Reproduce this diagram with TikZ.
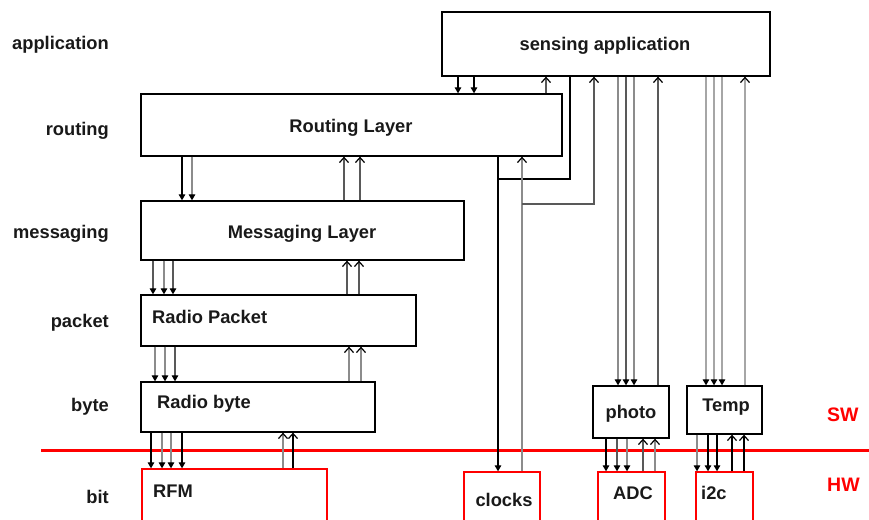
\documentclass[tikz,border=0pt]{standalone}
\usepackage{fontspec}
\setmainfont{Liberation Sans}
\usetikzlibrary{arrows.meta}
\definecolor{gA}{gray}{0.35}
\definecolor{gB}{gray}{0.55}
\definecolor{gC}{gray}{0.65}
\newcommand\lblfont{\fontsize{18.3}{20}\selectfont\bfseries}
\newcommand\dnarr[4][black]{\draw[ln,#1,-{Triangle[color=black,length=6pt,width=6.5pt]}] (#3.south -| #2,0) -- (#4.north -| #2,0);}
\newcommand\uparr[4][black]{\draw[ln,#1,-{Straight Barb[color=black,length=5pt,width=9pt]}] (#3.north -| #2,0) -- (#4.south -| #2,0);}
\begin{document}
\begin{tikzpicture}[x=1pt,y=-1pt,
  box/.style={draw=black,line width=1.3pt,inner sep=0pt,minimum width=#1},
  hwbox/.style={draw=red,line width=1.3pt,inner sep=0pt,minimum width=#1},
  ln/.style={line width=1.2pt},
  txt/.style={font=\lblfont,inner sep=0pt,text=black!90},
  hwtxt/.style={font=\fontsize{19.5}{21}\selectfont\bfseries,inner sep=0pt,text=red}]
\useasboundingbox (0,0) rectangle (869,519);
\clip (0,0) rectangle (869,519);
% boxes
\node[box=328pt,minimum height=64pt] (app) at (606,44) {};
\node[box=421pt,minimum height=62pt] (rt) at (351.5,125) {};
\node[box=323pt,minimum height=59pt] (msg) at (302.5,230.5) {};
\node[box=275pt,minimum height=51pt] (pkt) at (278.5,320.5) {};
\node[box=234pt,minimum height=50pt] (byt) at (258,407) {};
\node[box=76pt,minimum height=52pt] (pho) at (631,412) {};
\node[box=75pt,minimum height=48pt] (tmp) at (724.5,410) {};
\node[hwbox=185pt,minimum height=60pt] (rfm) at (234.5,499) {};
\node[hwbox=76pt,minimum height=56pt] (clk) at (502,500) {};
\node[hwbox=67pt,minimum height=56pt] (adc) at (631.5,500) {};
\node[hwbox=57pt,minimum height=56pt] (i2c) at (724.5,500) {};
% box texts
\node[txt,anchor=base] (tapp) at (605,51) {sensing application};
\node[txt,anchor=base] (trt) at (351,132) {Routing Layer};
\node[txt,anchor=base] (tmsg) at (302,238) {Messaging Layer};
\node[txt,anchor=base west] (tpkt) at (152,323) {Radio Packet};
\node[txt,anchor=base west] (tbyt) at (157,408) {Radio byte};
\node[txt,anchor=base west] (trfm) at (153,497) {RFM};
\node[txt,anchor=base] (tclk) at (504,506) {clocks};
\node[txt,anchor=base] (tpho) at (631,418) {photo};
\node[txt,anchor=base] (ttmp) at (726,411) {Temp};
\node[txt,anchor=base] (tadc) at (633,499) {ADC};
\node[txt,anchor=base west] (ti2c) at (701,499) {i2c};
% left labels
\node[txt,anchor=base east] (lapp) at (109,50) {application};
\node[txt,anchor=base east] (lrt) at (109,135) {routing};
\node[txt,anchor=base east] (lmsg) at (109,238) {messaging};
\node[txt,anchor=base east] (lpkt) at (109,327) {packet};
\node[txt,anchor=base east] (lbyt) at (109,411) {byte};
\node[txt,anchor=base east] (lbit) at (109,503) {bit};
% SW / HW
\coordinate (swl) at (41,450);
\coordinate (swr) at (869,450);
\draw[red,line width=3pt] (swl) -- (swr);
\node[hwtxt,anchor=base west] (sw) at (827,421) {SW};
\node[hwtxt,anchor=base west] (hw) at (827,491) {HW};
% application <-> routing
\dnarr{458}{app}{rt}
\dnarr{474}{app}{rt}
\uparr[gA]{546}{rt}{app}
% to clocks
\coordinate (j1) at (498,179);
\draw[ln] (app.south -| 570,0) |- (j1);
\dnarr{498}{rt}{clk}
\uparr[gB]{522}{clk}{rt}
\coordinate (j2) at (522,204);
\draw[ln,gA,-{Straight Barb[color=black,length=5pt,width=9pt]}] (j2) -| (app.south -| 594,0);
% application <-> photo
\dnarr[gB]{618}{app}{pho}
\dnarr[gA]{626}{app}{pho}
\dnarr[gB]{634}{app}{pho}
\uparr[gA]{658}{pho}{app}
% application <-> Temp
\dnarr[gC]{706}{app}{tmp}
\dnarr[gC]{714}{app}{tmp}
\dnarr[gC]{722}{app}{tmp}
\uparr[gC]{745}{tmp}{app}
% routing <-> messaging
\dnarr{182}{rt}{msg}
\dnarr[gB]{192}{rt}{msg}
\uparr[gA]{344}{msg}{rt}
\uparr[gA]{360}{msg}{rt}
% messaging <-> packet
\dnarr[gA]{153}{msg}{pkt}
\dnarr[gB]{164}{msg}{pkt}
\dnarr[gA]{173}{msg}{pkt}
\uparr[gA]{347}{pkt}{msg}
\uparr[gA]{359}{pkt}{msg}
% packet <-> byte
\dnarr[gB]{155}{pkt}{byt}
\dnarr[gB]{165}{pkt}{byt}
\dnarr[gA]{175}{pkt}{byt}
\uparr[gB]{349}{byt}{pkt}
\uparr[gB]{361}{byt}{pkt}
% byte <-> RFM
\dnarr{151}{byt}{rfm}
\dnarr[gB]{162}{byt}{rfm}
\dnarr[gB]{171}{byt}{rfm}
\dnarr{182}{byt}{rfm}
\uparr[gB]{283}{rfm}{byt}
\uparr{293}{rfm}{byt}
% photo <-> ADC
\dnarr{606}{pho}{adc}
\dnarr[gA]{617}{pho}{adc}
\dnarr[gB]{627}{pho}{adc}
\uparr[gA]{643}{adc}{pho}
\uparr[gB]{655}{adc}{pho}
% Temp <-> i2c
\dnarr[gB]{697}{tmp}{i2c}
\dnarr{708}{tmp}{i2c}
\dnarr{717}{tmp}{i2c}
\uparr{732}{i2c}{tmp}
\uparr{744}{i2c}{tmp}
\end{tikzpicture}
\end{document}
